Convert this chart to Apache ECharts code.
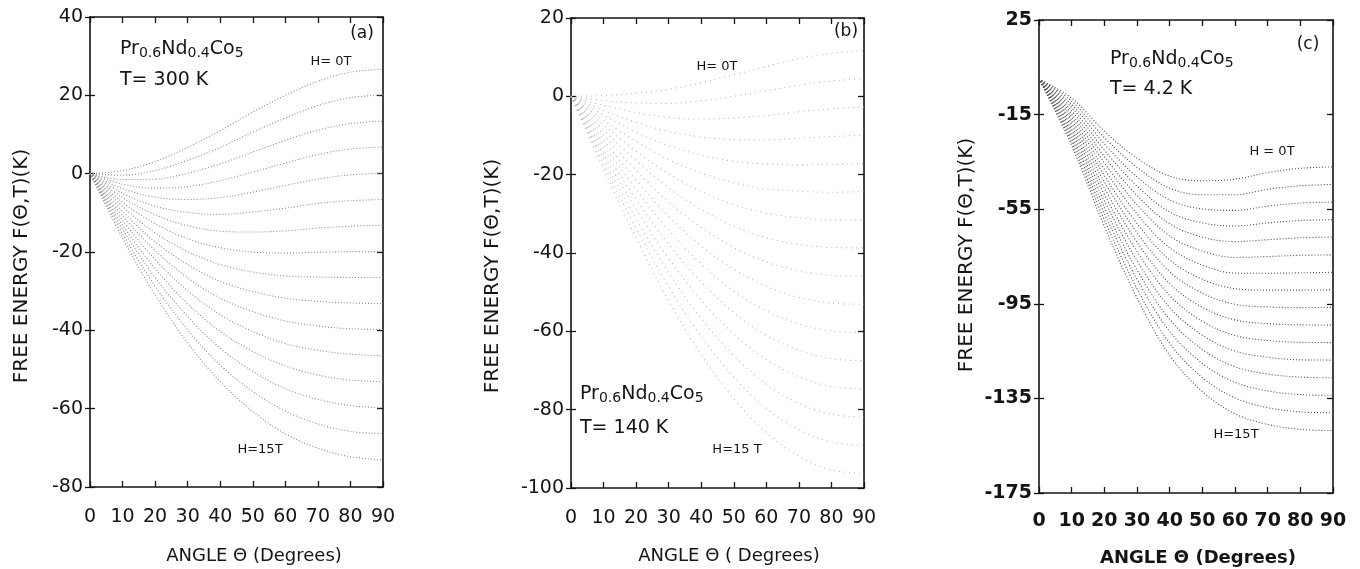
<!DOCTYPE html>
<html><head><meta charset="utf-8">
<script src="https://cdn.jsdelivr.net/npm/echarts@6/dist/echarts.min.js"></script>
<style>html,body{margin:0;padding:0;background:#fff}#c{width:1360px;height:569px}</style>
</head><body><div id="c"></div>
<script>
// angle grid (degrees)
const THETA = [0, 10, 20, 30, 40, 50, 60, 70, 80, 90];
const X_TICKS = [0, 10, 20, 30, 40, 50, 60, 70, 80, 90];
const Y_TICKS_A = [-80, -60, -40, -20, 0, 20, 40];
const Y_TICKS_B = [-100, -80, -60, -40, -20, 0, 20];
const Y_TICKS_C = [-175, -135, -95, -55, -15, 25];
const FIELDS = [0,1,2,3,4,5,6,7,8,9,10,11,12,13,14,15];

// (a) T = 300 K : one row per field H = 0..15 T, values at THETA
const F_A = [
  [0, 0.8, 3.1, 6.7, 11.0, 15.7, 20.0, 23.6, 25.9, 26.7],
  [0, -0.4, 0.8, 3.4, 6.7, 10.6, 14.2, 17.4, 19.4, 20.1],
  [0, -1.5, -1.4, 0.1, 2.5, 5.5, 8.5, 11.1, 12.8, 13.4],
  [0, -2.7, -3.7, -3.3, -1.8, 0.4, 2.7, 4.9, 6.3, 6.8],
  [0, -3.8, -6.0, -6.6, -6.1, -4.7, -3.0, -1.4, -0.3, 0.1],
  [0, -5.0, -8.3, -9.9, -10.4, -9.8, -8.8, -7.6, -6.9, -6.6],
  [0, -6.1, -10.5, -13.3, -14.7, -14.9, -14.6, -13.9, -13.4, -13.2],
  [0, -7.3, -12.8, -16.6, -18.9, -20.0, -20.3, -20.1, -19.9, -19.9],
  [0, -8.4, -15.1, -19.9, -23.2, -25.1, -26.1, -26.4, -26.5, -26.5],
  [0, -9.6, -17.4, -23.2, -27.5, -30.1, -31.8, -32.6, -33.0, -33.2],
  [0, -10.8, -19.6, -26.6, -31.8, -35.2, -37.6, -38.9, -39.6, -39.8],
  [0, -11.9, -21.9, -29.9, -36.0, -40.3, -43.4, -45.1, -46.1, -46.5],
  [0, -13.1, -24.2, -33.2, -40.3, -45.4, -49.1, -51.4, -52.7, -53.1],
  [0, -14.2, -26.5, -36.5, -44.6, -50.5, -54.9, -57.6, -59.2, -59.8],
  [0, -15.4, -28.7, -39.9, -48.9, -55.6, -60.6, -63.9, -65.8, -66.4],
  [0, -16.5, -31.0, -43.2, -53.1, -60.7, -66.4, -70.1, -72.3, -73.1]
];

// (b) T = 140 K
const F_B = [
  [0, 0.2, 0.8, 1.8, 3.5, 5.5, 7.6, 9.6, 11.0, 11.7],
  [0, -1.1, -1.7, -1.8, -1.1, 0.0, 1.4, 2.8, 3.9, 4.5],
  [0, -2.3, -4.1, -5.4, -5.8, -5.5, -4.9, -3.9, -3.2, -2.7],
  [0, -3.6, -6.6, -9.0, -10.4, -11.0, -11.1, -10.7, -10.3, -9.9],
  [0, -4.8, -9.1, -12.6, -15.0, -16.6, -17.3, -17.5, -17.4, -17.1],
  [0, -6.1, -11.5, -16.2, -19.6, -22.1, -23.6, -24.2, -24.5, -24.3],
  [0, -7.3, -14.0, -19.8, -24.3, -27.6, -29.8, -31.0, -31.6, -31.5],
  [0, -8.6, -16.4, -23.4, -28.9, -33.1, -36.1, -37.8, -38.6, -38.7],
  [0, -9.8, -18.9, -27.0, -33.5, -38.6, -42.3, -44.5, -45.7, -45.9],
  [0, -11.1, -21.4, -30.6, -38.2, -44.1, -48.5, -51.3, -52.8, -53.1],
  [0, -12.3, -23.8, -34.2, -42.8, -49.7, -54.8, -58.1, -59.9, -60.3],
  [0, -13.6, -26.3, -37.8, -47.4, -55.2, -61.0, -64.8, -67.0, -67.5],
  [0, -14.8, -28.8, -41.4, -52.0, -60.7, -67.2, -71.6, -74.1, -74.7],
  [0, -16.1, -31.2, -45.0, -56.7, -66.2, -73.5, -78.4, -81.2, -81.9],
  [0, -17.3, -33.7, -48.6, -61.3, -71.7, -79.7, -85.1, -88.3, -89.1],
  [0, -18.6, -36.2, -52.2, -65.9, -77.2, -85.9, -91.9, -95.4, -96.3]
];

// (c) T = 4.2 K
const F_C = [
  [0, -8.0, -22.0, -33.4, -41.0, -43.0, -42.3, -39.5, -37.7, -37.1],
  [0, -9.3, -24.7, -37.3, -46.1, -48.9, -48.9, -46.6, -45.1, -44.5],
  [0, -10.7, -27.4, -41.3, -51.1, -54.9, -55.5, -53.7, -52.4, -52.0],
  [0, -12.0, -30.0, -45.2, -56.2, -60.8, -62.1, -60.8, -59.8, -59.4],
  [0, -13.4, -32.7, -49.2, -61.2, -66.8, -68.7, -67.9, -67.1, -66.8],
  [0, -14.7, -35.4, -53.1, -66.3, -72.7, -75.4, -75.0, -74.5, -74.3],
  [0, -16.0, -38.1, -57.0, -71.3, -78.6, -82.0, -82.1, -81.9, -81.7],
  [0, -17.4, -40.8, -61.0, -76.4, -84.6, -88.6, -89.2, -89.2, -89.1],
  [0, -18.7, -43.4, -64.9, -81.4, -90.5, -95.2, -96.3, -96.6, -96.5],
  [0, -20.1, -46.1, -68.9, -86.5, -96.5, -101.8, -103.4, -103.9, -104.0],
  [0, -21.4, -48.8, -72.8, -91.5, -102.4, -108.4, -110.5, -111.3, -111.4],
  [0, -22.7, -51.5, -76.7, -96.6, -108.3, -115.0, -117.6, -118.7, -118.8],
  [0, -24.1, -54.2, -80.7, -101.6, -114.3, -121.6, -124.7, -126.0, -126.3],
  [0, -25.4, -56.8, -84.6, -106.7, -120.2, -128.2, -131.8, -133.4, -133.7],
  [0, -26.8, -59.5, -88.6, -111.7, -126.2, -134.8, -138.9, -140.7, -141.1],
  [0, -28.1, -62.2, -92.5, -116.8, -132.1, -141.5, -146.0, -148.1, -148.6]
];

const FONT = 'DejaVu Sans';
const INK = '#141414';
const chart = echarts.init(document.getElementById('c'), null, {renderer: 'canvas'});

const panels = [
  { grid: {left: 90, top: 17, width: 293, height: 470}, yTicks: Y_TICKS_A, rows: F_A,
    color: '#8a8a8a', dash: [1, 2], weight: 'normal', xMargin: 21 },
  { grid: {left: 571, top: 18, width: 293, height: 470}, yTicks: Y_TICKS_B, rows: F_B,
    color: '#b4b4b4', dash: [1, 4], weight: 'normal', xMargin: 21 },
  { grid: {left: 1039, top: 20, width: 294, height: 473}, yTicks: Y_TICKS_C, rows: F_C,
    color: '#4c4c4c', dash: [1, 2], weight: 'bold', xMargin: 19 }
];

const grids = [], xAxes = [], yAxes = [], series = [];
const axisLine = {show: true, onZero: false, lineStyle: {color: INK, width: 1.6}};
panels.forEach((p, gi) => {
  grids.push(Object.assign({containLabel: false}, p.grid));
  const yMin = p.yTicks[0], yMax = p.yTicks[p.yTicks.length - 1];
  const xb = xAxes.length;
  xAxes.push({
    type: 'value', gridIndex: gi, position: 'bottom', min: X_TICKS[0], max: X_TICKS[X_TICKS.length - 1],
    axisLine, splitLine: {show: false},
    axisTick: {show: true, inside: true, length: 6, customValues: X_TICKS, lineStyle: {color: INK, width: 1.3}},
    axisLabel: {show: true, customValues: X_TICKS, margin: p.xMargin, color: INK, fontFamily: FONT,
      fontSize: 19, fontWeight: p.weight}
  });
  xAxes.push({
    type: 'value', gridIndex: gi, position: 'top', min: X_TICKS[0], max: X_TICKS[X_TICKS.length - 1],
    axisLine, splitLine: {show: false},
    axisTick: {show: true, inside: true, length: 6, customValues: X_TICKS, lineStyle: {color: INK, width: 1.3}},
    axisLabel: {show: false}
  });
  const yl = yAxes.length;
  yAxes.push({
    type: 'value', gridIndex: gi, position: 'left', min: yMin, max: yMax,
    axisLine, splitLine: {show: false},
    axisTick: {show: true, inside: false, length: 5, customValues: p.yTicks, lineStyle: {color: INK, width: 1.3}},
    axisLabel: {show: true, customValues: p.yTicks, margin: 7, color: INK, fontFamily: FONT,
      fontSize: 19, fontWeight: p.weight}
  });
  yAxes.push({
    type: 'value', gridIndex: gi, position: 'left', min: yMin, max: yMax,
    axisLine: {show: false, onZero: false}, splitLine: {show: false},
    axisTick: {show: true, inside: true, length: 5, customValues: p.yTicks, lineStyle: {color: INK, width: 1.3}},
    axisLabel: {show: false}
  });
  yAxes.push({
    type: 'value', gridIndex: gi, position: 'right', min: yMin, max: yMax,
    axisLine, splitLine: {show: false},
    axisTick: {show: true, inside: true, length: 6, customValues: p.yTicks, lineStyle: {color: INK, width: 1.3}},
    axisLabel: {show: false}
  });
  FIELDS.forEach(h => {
    series.push({
      type: 'line', xAxisIndex: xb, yAxisIndex: yl, name: 'H=' + h + 'T',
      data: THETA.map((t, i) => [t, p.rows[h][i]]),
      showSymbol: false, smooth: 0.35, silent: true, animation: false, clip: true,
      lineStyle: {color: p.color, width: 1.1, type: p.dash, cap: 'butt'}
    });
  });
});

function txt(x, y, text, size, opts) {
  opts = opts || {};
  return {
    type: 'text', x: x, y: y, rotation: opts.rot || 0, silent: true,
    style: {text: text, fill: INK, font: (opts.weight || 'normal') + ' ' + size + 'px "' + FONT + '"',
      align: opts.align || 'left', verticalAlign: 'middle'}
  };
}
function formula(x, y, weight) {
  return {
    type: 'text', x: x, y: y, silent: true,
    style: {
      text: '{m|Pr}{s|0.6}{m|Nd}{s|0.4}{m|Co}{s|5}', align: 'left', verticalAlign: 'middle',
      rich: {
        m: {fontFamily: FONT, fontSize: 19, fontWeight: weight, fill: INK, color: INK, lineHeight: 21, verticalAlign: 'top'},
        s: {fontFamily: FONT, fontSize: 14, fontWeight: weight, fill: INK, color: INK, lineHeight: 11, verticalAlign: 'bottom'}
      }
    }
  };
}

const graphics = [
  // panel (a)
  txt(22, 266, 'FREE ENERGY F(Θ,T)(K)', 20, {rot: Math.PI / 2, align: 'center'}),
  txt(254, 556, 'ANGLE Θ (Degrees)', 18, {align: 'center'}),
  formula(120, 50, 'normal'),
  txt(120, 80, 'T= 300 K', 19),
  txt(362, 34, '(a)', 17, {align: 'center'}),
  txt(331, 62, 'H= 0T', 13, {align: 'center'}),
  txt(260, 450, 'H=15T', 13, {align: 'center'}),
  // panel (b)
  txt(493, 276, 'FREE ENERGY F(Θ,T)(K)', 20, {rot: Math.PI / 2, align: 'center'}),
  txt(729, 556, 'ANGLE Θ ( Degrees)', 18, {align: 'center'}),
  formula(580, 395, 'normal'),
  txt(580, 428, 'T= 140 K', 19),
  txt(846, 32, '(b)', 17, {align: 'center'}),
  txt(717, 67, 'H= 0T', 13, {align: 'center'}),
  txt(737, 450, 'H=15 T', 13, {align: 'center'}),
  // panel (c)
  txt(967, 255, 'FREE ENERGY F(Θ,T)(K)', 20, {rot: Math.PI / 2, align: 'center'}),
  txt(1198, 558, 'ANGLE Θ (Degrees)', 18, {align: 'center', weight: 'bold'}),
  formula(1110, 60, 'normal'),
  txt(1110, 89, 'T= 4.2 K', 19),
  txt(1308, 45, '(c)', 17, {align: 'center'}),
  txt(1272, 152, 'H = 0T', 13, {align: 'center'}),
  txt(1236, 435, 'H=15T', 13, {align: 'center'})
];

chart.setOption({
  animation: false,
  backgroundColor: '#ffffff',
  grid: grids, xAxis: xAxes, yAxis: yAxes, series: series,
  graphic: graphics
});
</script></body></html>
